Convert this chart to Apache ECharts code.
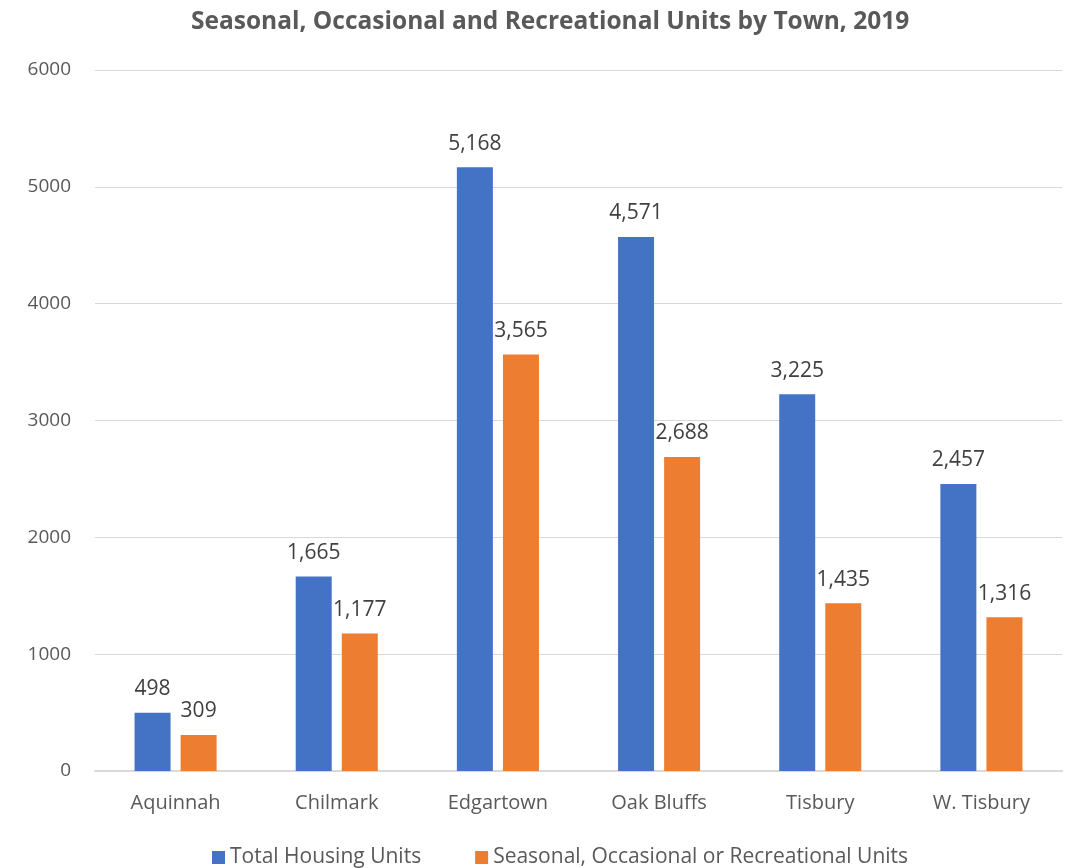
<!DOCTYPE html>
<html>
<head>
<meta charset="utf-8">
<script src="https://cdn.jsdelivr.net/npm/echarts@6/dist/echarts.min.js"></script>
<style>
html, body { margin: 0; padding: 0; background: #fff; }
#container { width: 1071px; height: 868px; }
</style>
</head>
<body>
<div id="container"></div>
<script>
var towns = ['Aquinnah', 'Chilmark', 'Edgartown', 'Oak Bluffs', 'Tisbury', 'W. Tisbury'];
var totalUnits = [498, 1665, 5168, 4571, 3225, 2457];
var seasonalUnits = [309, 1177, 3565, 2688, 1435, 1316];

var dom = document.getElementById('container');
var myChart = echarts.init(dom);

var labelStyle = {
    show: true,
    position: 'top',
    distance: 13,
    color: '#404040',
    fontSize: 21,
    fontFamily: 'Open Sans',
    formatter: function (p) {
        return p.value.toLocaleString('en-US');
    }
};

var option = {
    animation: false,
    title: {
        text: 'Seasonal, Occasional and Recreational Units by Town, 2019',
        left: 186,
        top: 5,
        textStyle: {
            color: '#595959',
            fontSize: 24.5,
            fontWeight: 'bold',
            fontFamily: 'Open Sans'
        }
    },
    legend: {
        bottom: -5,
        left: 207,
        itemWidth: 13,
        itemHeight: 13,
        itemGap: 54,
        icon: 'rect',
        textStyle: {
            color: '#595959',
            fontSize: 21,
            fontFamily: 'Open Sans'
        },
        data: ['Total Housing Units', 'Seasonal, Occasional or Recreational Units']
    },
    grid: {
        left: 95,
        right: 9,
        top: 70,
        bottom: 97,
        containLabel: false
    },
    xAxis: {
        type: 'category',
        data: towns,
        axisLine: { lineStyle: { color: '#d9d9d9', width: 2 } },
        axisTick: { show: false },
        axisLabel: {
            color: '#595959',
            fontSize: 20,
            fontFamily: 'Open Sans',
            margin: 22
        }
    },
    yAxis: {
        type: 'value',
        min: 0,
        max: 6000,
        interval: 1000,
        axisLine: { show: false },
        axisTick: { show: false },
        splitLine: { lineStyle: { color: '#d9d9d9', width: 1 } },
        axisLabel: {
            color: '#595959',
            fontSize: 19,
            fontFamily: 'Open Sans',
            margin: 24,
            formatter: function (v) { return String(v); }
        }
    },
    series: [
        {
            name: 'Total Housing Units',
            type: 'bar',
            data: totalUnits,
            barWidth: 36,
            barGap: '28%',
            itemStyle: { color: '#4472c4' },
            label: labelStyle
        },
        {
            name: 'Seasonal, Occasional or Recreational Units',
            type: 'bar',
            data: seasonalUnits,
            barWidth: 36,
            barGap: '28%',
            itemStyle: { color: '#ed7d31' },
            label: labelStyle
        }
    ]
};

myChart.setOption(option);
</script>
</body>
</html>
